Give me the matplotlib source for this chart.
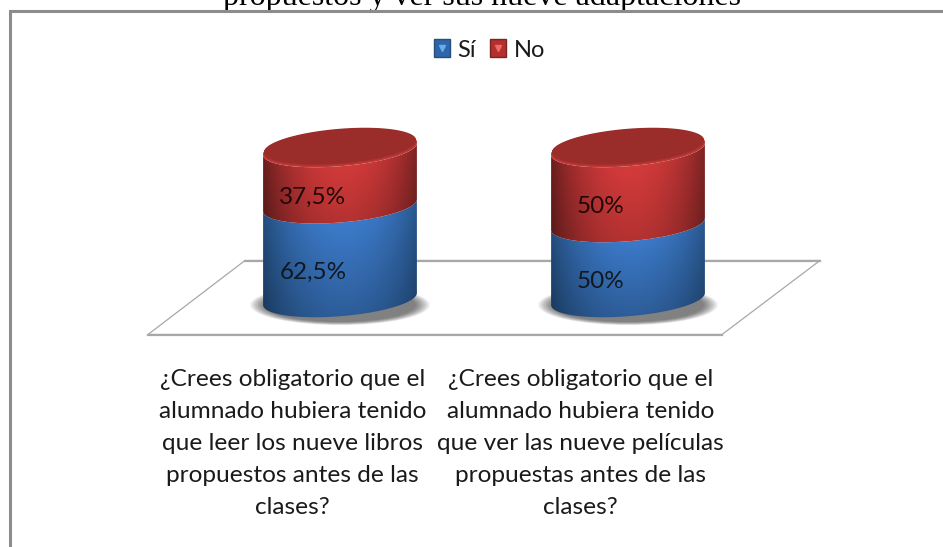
import numpy as np
import matplotlib
matplotlib.use("Agg")
import matplotlib.pyplot as plt
from matplotlib.patches import Polygon, Patch, Ellipse
from matplotlib.lines import Line2D
from matplotlib.legend_handler import HandlerTuple

# === Data ===
title_text = "propuestos y ver sus nueve adaptaciones"
categories = [
    "¿Crees obligatorio que el\nalumnado hubiera tenido\nque leer los nueve libros\npropuestos antes de las\nclases?",
    "¿Crees obligatorio que el\nalumnado hubiera tenido\nque ver las nueve películas\npropuestas antes de las\nclases?",
]
si_values = [62.5, 50]
no_values = [37.5, 50]
value_labels_si = ["62,5%", "50%"]
value_labels_no = ["37,5%", "50%"]
series_names = ["Sí", "No"]

W, H = 943, 547
FONT = "Lato"

# cylinder shape, in data units (x: one unit per category, y: percent)
RX = 0.267   # half width
RY = 11.5    # half height of the ellipse
TILT = 4.0   # right side sits higher than left


def fx(px):
    return px / W


def fy(py):
    return 1 - py / H


def ellipse_xy(cx, level, t):
    return cx + RX * np.cos(t), level - RY * np.sin(t) + TILT * np.cos(t)


def shade(dark, bright, rows=60, cols=200, fade=0.0):
    # horizontal cylinder shading with the light about in the middle
    u = np.linspace(0, 1, cols)
    k = np.clip(1 - (np.abs(u - 0.52) / 0.52) ** 2.0, 0, 1) ** 0.9
    img = np.zeros((rows, cols, 3))
    v = np.linspace(0, 1, rows)[:, None]  # 0 = top row
    for c in range(3):
        img[:, :, c] = dark[c] + (bright[c] - dark[c]) * k
    return img * (1 - fade * v[:, :, None])


def body(ax, cx, lo, hi, dark, bright, fade=0.0):
    t = np.linspace(0, np.pi, 80)
    x_lo, y_lo = ellipse_xy(cx, lo, t)
    x_hi, y_hi = ellipse_xy(cx, hi, t[::-1])
    poly = Polygon(np.column_stack([np.r_[x_lo, x_hi], np.r_[y_lo, y_hi]]),
                   closed=True, transform=ax.transData, fc="none", ec="none")
    ax.add_patch(poly)
    im = ax.imshow(shade(dark, bright, fade=fade), aspect="auto", zorder=3, origin="upper",
                   extent=(cx - RX, cx + RX, lo - RY - TILT, hi + TILT), interpolation="bilinear")
    im.set_clip_path(poly)


fig = plt.figure(figsize=(W / 100, H / 100), dpi=100, facecolor="white")
ax = fig.add_axes([0, 0, 1, 1])
ax.axis("off")

# x=0 sits at 340 px, x=1 at 628 px; y=0 at 299 px, y=100 at 149 px
xlim = (-340 / 288, (W - 340) / 288)
ylim = ((299 - H) / 1.5, 299 / 1.5)

# === Title, cut by the top of the page ===
ax.text(fx(482), fy(5), title_text, transform=ax.transAxes, ha="center", va="baseline",
        fontsize=23, family="Liberation Serif", color="black", zorder=1)

# === Outer frame ===
ax.add_line(Line2D([fx(9.5), fx(9.5), fx(W)], [fy(H), fy(10.5), fy(10.5)], transform=ax.transAxes,
                   color="#8c8c8c", lw=2.2, solid_joinstyle="miter", zorder=2))

# === Floor ===
floor = [(148, 334.5), (245, 260.5), (820, 260.5), (722, 334.5)]
ax.add_patch(Polygon([(fx(a), fy(b)) for a, b in floor], closed=True, transform=ax.transAxes,
                     fc="white", ec="#a8a8a8", lw=0.9, zorder=1))
for a, b in [(floor[1], floor[2]), (floor[0], floor[3])]:
    ax.add_line(Line2D([fx(a[0]), fx(b[0])], [fy(a[1]), fy(b[1])], transform=ax.transAxes,
                       color="#a8a8a8", lw=1.6, zorder=1))

# === Cylinders ===
red_dark, red_bright = (0.42, 0.12, 0.12), (0.87, 0.24, 0.24)
blue_dark, blue_bright = (0.14, 0.31, 0.50), (0.25, 0.51, 0.84)

for i in range(len(categories)):
    si, no = si_values[i], no_values[i]

    # soft shadow on the floor
    for grow in np.linspace(1.17, 0.98, 16):
        ax.add_patch(Ellipse((i, -4), 2 * RX * grow, 2 * RY * grow, angle=0,
                             fc="black", ec="none", alpha=0.04, zorder=2))

    body(ax, i, 0, si, blue_dark, blue_bright, fade=0.3)
    body(ax, i, si, si + no, red_dark, red_bright, fade=0.2)

    # top of the cylinder: lit rim fading into the darker lid behind it
    t = np.linspace(0, 2 * np.pi, 160)
    top = si + no
    for lift, col in zip([0, 0.5, 1.0, 1.5, 2.0], ["#c23a37", "#bb3735", "#b03432", "#a53030", "#9a2c2a"]):
        x, y = ellipse_xy(i, top + lift, t)
        narrow = 1 - lift * 0.006
        ax.add_patch(Polygon(np.column_stack([i + (x - i) * narrow, y]), closed=True,
                             fc=col, ec="none", zorder=4))

    # value labels
    ax.text(i - 0.094, si / 2 - RY - 2, value_labels_si[i], ha="center", va="center",
            fontsize=17.5, family=FONT, color="#101820", zorder=5)
    ax.text(i - 0.094, si + no / 2 - RY - 2, value_labels_no[i], ha="center", va="center",
            fontsize=17.5, family=FONT, color="#200808", zorder=5)

    # category labels
    ax.text(i - 0.166, -47, categories[i], ha="center", va="top", fontsize=17.6, family=FONT,
            color="#1a1a1a", linespacing=1.64, zorder=5)

ax.set_xlim(xlim)
ax.set_ylim(ylim)

# === Legend ===
h_si = (Patch(fc="#2f66a8", ec="#24507f"),
        Line2D([], [], marker="v", ms=5, color="#63aef0", ls="none"))
h_no = (Patch(fc="#b2302e", ec="#7d2422"),
        Line2D([], [], marker="v", ms=5, color="#ef6a68", ls="none"))
leg = ax.legend([h_si, h_no], series_names, handler_map={tuple: HandlerTuple(ndivide=1)},
                loc="center", bbox_to_anchor=(fx(489.5), fy(50)), bbox_transform=ax.transAxes,
                ncols=2, frameon=False, handlelength=0.68, handleheight=0.8, handletextpad=0.3,
                columnspacing=0.62, prop={"family": FONT, "size": 17}, labelcolor="#1a1a1a")
leg.set_zorder(6)

plt.savefig("out.png", dpi=100)
